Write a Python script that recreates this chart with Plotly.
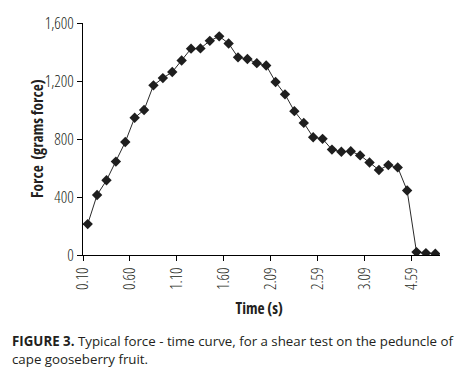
import numpy as np
import plotly.graph_objects as go

# Data (grams force), one point per sample
force = [213, 414, 515, 644, 779, 947, 1000, 1170, 1220, 1262, 1341, 1423, 1425,
         1477, 1508, 1459, 1363, 1352, 1323, 1307, 1193, 1108, 992, 911, 812, 801,
         727, 712, 716, 687, 638, 586, 620, 604, 445, 20, 13, 9]
tick_labels = ["0.10", "0.60", "1.10", "1.60", "2.09", "2.59", "3.09", "4.59"]
y_ticks = [0, 400, 800, 1200, 1600]
y_tick_text = ["0", "400", "800", "1,200", "1,600"]

n = len(force)
x = np.arange(n) + 0.5            # points centred in their category slot
tick_pos = np.arange(len(tick_labels)) * 5  # labels every 5 categories (on boundaries)

TXT = "#231f20"
FAM = "Open Sans"

def fnt(size, weight=400):
    return dict(family=FAM, size=size, color=TXT, weight=weight)

fig = go.Figure()
fig.add_trace(go.Scatter(
    x=x, y=force, mode="lines+markers",
    line=dict(color="#2a2a2a", width=1),
    marker=dict(symbol="diamond", size=8, color="#1e1e1e"),
    showlegend=False, hoverinfo="skip"))

L, R, T, B = 83, 35, 17, 120
W, H = 475, 375
pw, ph = W - L - R, H - T - B

fig.update_layout(
    width=W, height=H,
    margin=dict(l=L, r=R, t=T, b=B),
    paper_bgcolor="white", plot_bgcolor="white",
    font=fnt(15),
    xaxis=dict(range=[0, n], tickmode="array", tickvals=tick_pos, ticktext=tick_labels,
               tickangle=-90, ticks="outside", ticklen=5, tickcolor="#000",
               showline=True, linecolor="#000", linewidth=1, showgrid=False,
               zeroline=False, tickfont=fnt(16, 350)),
    yaxis=dict(range=[0, 1600], tickmode="array", tickvals=y_ticks, ticktext=y_tick_text,
               ticks="outside", ticklen=5, tickcolor="#000",
               showline=True, linecolor="#000", linewidth=1, showgrid=False,
               zeroline=False, tickfont=fnt(16, 350)),
)

def px_to_paper_x(px):
    return (px - L) / pw

def px_to_paper_y(py):
    return (H - B - py) / ph

fig.add_annotation(text="<b>Force  (grams force)</b>", textangle=-90,
                   xref="paper", yref="paper", x=px_to_paper_x(37), y=0.5,
                   xanchor="center", yanchor="middle", showarrow=False,
                   font=fnt(15.5, 700))
fig.add_annotation(text="<b>Time (s)</b>",
                   xref="paper", yref="paper", x=px_to_paper_x(259), y=px_to_paper_y(309),
                   xanchor="center", yanchor="middle", showarrow=False,
                   font=fnt(15.5, 700))
fig.add_annotation(text="<b>FIGURE 3.</b> Typical force - time curve, for a shear test on the peduncle of",
                   xref="paper", yref="paper", x=px_to_paper_x(10), y=px_to_paper_y(343),
                   xanchor="left", yanchor="middle", align="left", showarrow=False,
                   font=fnt(13.3))
fig.add_annotation(text="cape gooseberry fruit.",
                   xref="paper", yref="paper", x=px_to_paper_x(10), y=px_to_paper_y(362),
                   xanchor="left", yanchor="middle", align="left", showarrow=False,
                   font=fnt(13.3))

post = ("document.body.style.margin='0';"
        "var s=document.createElement('style');"
        "s.textContent='svg text{font-stretch:75% !important;}';"
        "document.head.appendChild(s);"
        "var a=document.querySelectorAll('g.annotation text');"
        "for(var i=a.length-2;i<a.length;i++){if(i>=0){a[i].style.setProperty('font-stretch','100%','important');}}")
fig.write_html("out.html", post_script=post, config={"displayModeBar": False})
